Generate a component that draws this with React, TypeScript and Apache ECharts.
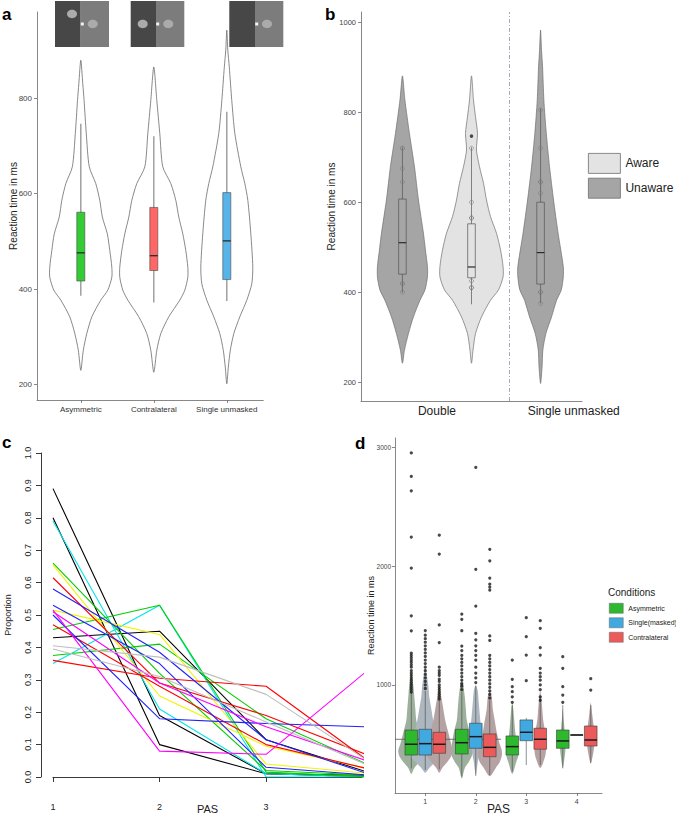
import React, { useEffect, useRef } from "react";
import * as echarts from "echarts";

// ---------------- Panel a ----------------
const A_CATEGORIES = ["Asymmetric", "Contralateral", "Single unmasked"];
const A_POSITIONS = [1, 2, 3];
const A_COLORS = ["#33cc33", "#ff6666", "#56b4e9"];
const A_TICKS = [200, 400, 600, 800];
// [value, half width in category units]
const A_VIOLIN_ASYMMETRIC = [[230, 0], [272, 0.034], [307, 0.082], [342, 0.151], [377, 0.274], [398, 0.37], [425, 0.425], [446, 0.425], [481, 0.397], [516, 0.363], [551, 0.295], [586, 0.26], [621, 0.205], [656, 0.116], [726, 0.075], [795, 0.045], [830, 0.027], [879, 0]];
const A_VIOLIN_CONTRALATERAL = [[226, 0], [272, 0.041], [307, 0.096], [342, 0.205], [377, 0.356], [398, 0.425], [425, 0.466], [446, 0.466], [481, 0.438], [516, 0.397], [551, 0.342], [586, 0.301], [621, 0.233], [656, 0.123], [726, 0.082], [795, 0.041], [865, 0]];
const A_VIOLIN_SINGLE = [[202, 0], [237, 0.021], [272, 0.048], [307, 0.096], [342, 0.178], [377, 0.274], [411, 0.342], [446, 0.356], [516, 0.329], [586, 0.288], [621, 0.247], [656, 0.192], [726, 0.11], [795, 0.068], [865, 0.034], [900, 0.014], [942, 0]];
// [lower whisker, q1, median, q3, upper whisker]
const A_BOX_ASYMMETRIC = [386, 417, 476, 561, 746];
const A_BOX_CONTRALATERAL = [372, 439, 470, 571, 720];
const A_BOX_SINGLE = [375, 420, 501, 602, 771];

// ---------------- Panel b ----------------
const B_FACETS = ["Double", "Single unmasked"];
const B_FACET_LABEL_POS = [1.5, 3.48];
const B_TICKS = [200, 400, 600, 800, 1000];
const B_UNAWARE_POS = [1, 3];
const B_AWARE_POS = [2];
const B_VIOLIN_DOUBLE_UNAWARE = [[242, 0], [271, 0.029], [308, 0.087], [345, 0.159], [382, 0.254], [405, 0.326], [434, 0.362], [457, 0.362], [494, 0.333], [531, 0.304], [605, 0.232], [679, 0.174], [753, 0.101], [827, 0.036], [881, 0]];
const B_VIOLIN_DOUBLE_AWARE = [[242, 0], [271, 0.022], [308, 0.058], [345, 0.145], [382, 0.275], [405, 0.391], [434, 0.457], [457, 0.457], [494, 0.42], [531, 0.362], [568, 0.275], [605, 0.217], [642, 0.174], [679, 0.116], [716, 0.072], [753, 0.087], [790, 0.058], [827, 0.029], [881, 0]];
const B_VIOLIN_SINGLE_UNAWARE = [[197, 0], [234, 0.022], [271, 0.033], [308, 0.077], [345, 0.159], [382, 0.232], [405, 0.3], [434, 0.329], [457, 0.329], [531, 0.254], [605, 0.188], [679, 0.13], [753, 0.083], [827, 0.048], [901, 0.029], [938, 0.014], [983, 0]];
const B_BOX_DOUBLE_UNAWARE = [399, 440, 510, 607, 722];
const B_BOX_DOUBLE_AWARE = [373, 432, 456, 552, 722];
const B_BOX_SINGLE_UNAWARE = [375, 418, 488, 600, 809];
const B_POINTS_DOUBLE_UNAWARE = [720, 720, 675, 645, 420, 418, 400];
const B_POINTS_DOUBLE_AWARE = [720, 600, 565, 565, 425, 410, 410];
const B_POINTS_SINGLE_UNAWARE = [805, 720, 645, 645, 620, 400, 400, 375];
const B_OUTLIERS_DOUBLE_AWARE = [747];
const B_SEPARATOR = 2.55;

// ---------------- Panel c ----------------
const C_PAS = [1, 2, 3, 4];
const C_TICKS = [1, 2, 3];
const C_LINE_COLORS = ["#000000", "#000000", "#000000", "#00e5ee", "#00e5ee", "#00cd00", "#00cd00", "#00cd00", "#f2f200", "#f2f200", "#ff0000", "#ff0000", "#ff0000", "#2020ff", "#2020ff", "#2020ff", "#ff00ff", "#ff00ff", "#bebebe", "#bebebe"];
const C_LINE_VALUES = [
  [0.89, 0.19, 0.01, 0.0],
  [0.8, 0.1, 0.01, 0.005],
  [0.43, 0.45, 0.115, 0.01],
  [0.79, 0.21, 0.01, 0.0],
  [0.35, 0.53, 0.0, 0.0],
  [0.66, 0.32, 0.02, 0.005],
  [0.455, 0.53, 0.015, 0.0],
  [0.375, 0.41, 0.18, 0.032],
  [0.655, 0.25, 0.095, 0.023],
  [0.515, 0.44, 0.04, 0.01],
  [0.615, 0.29, 0.19, 0.062],
  [0.47, 0.28, 0.1, 0.022],
  [0.36, 0.305, 0.28, 0.04],
  [0.58, 0.385, 0.115, 0.005],
  [0.53, 0.35, 0.03, 0.005],
  [0.5, 0.18, 0.165, 0.154],
  [0.515, 0.08, 0.07, 0.342],
  [0.51, 0.29, 0.155, 0.044],
  [0.405, 0.37, 0.255, 0.04],
  [0.395, 0.31, 0.17, 0.03],
];

// ---------------- Panel d ----------------
const D_PAS = [1, 2, 3, 4];
const D_CONDITIONS = ["Asymmetric", "Single(masked)", "Contralateral"];
const D_COLORS = ["#2db82d", "#3fa9e0", "#ec5b5b"];
const D_SWARM_COLORS = ["#9db09d", "#adb7c0", "#b5a3a3"];
const D_OFFSETS = [-0.277, 0, 0.277];
const D_TICKS = [1000, 2000, 3000];
const D_BOX_ASYMMETRIC = [[297, 409, 500, 620, 935], [227, 418, 513, 626, 940], [269, 410, 480, 570, 830], [297, 466, 528, 620, 830]];
const D_BOX_SINGLE = [[283, 409, 505, 626, 950], [233, 466, 564, 677, 991], [325, 530, 601, 705, 721], [578, 578, 578, 578, 578]];
const D_BOX_CONTRALATERAL = [[290, 424, 500, 601, 866], [241, 395, 474, 587, 870], [325, 458, 542, 635, 890], [340, 485, 536, 654, 831]];
const D_OUT_ASYMMETRIC = [
  [2956, 2758, 2637, 2247, 1985, 1583, 1456, 1268, 1250, 1230, 1210, 1190, 1170, 1150, 1120, 1100, 1080, 1060, 1040, 1020, 1000, 980, 960, 940],
  [1598, 1553, 1457, 1328, 1290, 1250, 1220, 1190, 1160, 1130, 1100, 1070, 1040, 1010, 990, 960],
  [1210, 1047, 985, 943, 900, 854],
  [1238, 1140, 985, 915, 854],
];
const D_OUT_SINGLE = [
  [1458, 1420, 1390, 1360, 1330, 1300, 1270, 1240, 1210, 1180, 1150, 1120, 1090, 1060, 1030, 1000, 970],
  [2834, 1975, 1665, 1435, 1380, 1330, 1290, 1250, 1210, 1150, 1100, 1060, 1020],
  [1567, 1407, 1252, 1036],
  [],
];
const D_OUT_CONTRALATERAL = [
  [2263, 2103, 1506, 1357, 1150, 1120, 1100, 1080, 1050, 1030, 1000, 980, 960, 940, 920, 900, 880],
  [2143, 2047, 1901, 1850, 1825, 1800, 1413, 1375, 1250, 1220, 1190, 1160, 1130, 1100, 1070, 1040, 1010, 980, 950, 920, 890],
  [1542, 1477, 1314, 1252, 1140, 1100, 1070, 1040, 1000, 960, 900, 870],
  [1053, 957],
];
// swarm silhouettes: [value, half width in dots]
const D_SWARM_ASYMMETRIC = [
  [[250, 0], [300, 3], [350, 8], [400, 12], [450, 13], [500, 11], [600, 8], [700, 5], [800, 4], [900, 3], [1000, 2], [1100, 0]],
  [[210, 0], [300, 3], [350, 7], [400, 10], [450, 11], [500, 10], [600, 8], [700, 5], [800, 4], [900, 3], [1000, 1.5], [1050, 0]],
  [[250, 0], [350, 4], [400, 6], [450, 6], [500, 5], [600, 3], [700, 2], [800, 1], [850, 0]],
  [[300, 0], [400, 2], [500, 3], [600, 2], [700, 1], [800, 0]],
];
const D_SWARM_SINGLE = [
  [[260, 0], [300, 4], [350, 10], [400, 16], [450, 18], [500, 15], [600, 11], [700, 8], [800, 6], [900, 4], [1000, 3], [1150, 0]],
  [[240, 0], [350, 2], [450, 4], [550, 5], [650, 5], [750, 4], [850, 3], [950, 2], [1000, 0]],
  [],
  [],
];
const D_SWARM_CONTRALATERAL = [
  [[260, 0], [300, 3], [350, 8], [400, 12], [450, 13], [500, 12], [600, 9], [700, 6], [800, 4], [900, 2], [1000, 0]],
  [[230, 0], [300, 6], [350, 10], [400, 12], [450, 12], [500, 10], [600, 7], [700, 5], [800, 3], [900, 2], [950, 0]],
  [[300, 0], [400, 5], [500, 6], [600, 5], [700, 3], [800, 2], [900, 1], [950, 0]],
  [[340, 0], [450, 3], [550, 4], [650, 3], [750, 1.5], [850, 0]],
];
const D_REFERENCE = 542;
const D_REFERENCE_SPAN = [0.4, 2.5];

const FONT = "Liberation Sans, Arial, sans-serif";

function violinSeries(name, xi, centers, profiles, fill, stroke, lw, pixelWidths) {
  return {
    type: "custom",
    name,
    xAxisIndex: xi,
    yAxisIndex: xi,
    z: 2,
    itemStyle: { color: fill },
    data: centers.map((c, i) => [c, profiles[i].length ? profiles[i][0][0] : 0]),
    renderItem: (params, api) => {
      const i = params.dataIndex;
      const c = centers[i];
      const prof = profiles[i];
      if (!prof || !prof.length) return null;
      const pts = [];
      const at = (w, v) => {
        if (pixelWidths) {
          const p = api.coord([c, v]);
          return [p[0] + w, p[1]];
        }
        return api.coord([c + w, v]);
      };
      prof.forEach(([v, w]) => pts.push(at(w, v)));
      for (let k = prof.length - 1; k >= 0; k--) {
        if (prof[k][1] === 0) continue;
        pts.push(at(-prof[k][1], prof[k][0]));
      }
      return {
        type: "polygon",
        shape: { points: pts, smooth: 0.25 },
        style: { fill, stroke, lineWidth: lw },
      };
    },
  };
}

function boxSeries(name, xi, centers, boxes, half, st) {
  return {
    type: "custom",
    name,
    xAxisIndex: xi,
    yAxisIndex: xi,
    z: 3,
    itemStyle: { color: st.fill },
    data: centers.map((c, i) => [c, boxes[i][2]]),
    renderItem: (params, api) => {
      const i = params.dataIndex;
      const c = centers[i];
      const [lo, q1, med, q3, hi] = boxes[i];
      const pLo = api.coord([c, lo]);
      const pHi = api.coord([c, hi]);
      const pQ1 = api.coord([c, q1]);
      const pQ3 = api.coord([c, q3]);
      const L = api.coord([c - half, med]);
      const R = api.coord([c + half, med]);
      const children = [];
      if (st.fullWhisker) {
        children.push({ type: "line", shape: { x1: pLo[0], y1: pLo[1], x2: pHi[0], y2: pHi[1] }, style: { stroke: st.whisker, lineWidth: st.whiskerWidth } });
      } else {
        children.push({ type: "line", shape: { x1: pLo[0], y1: pLo[1], x2: pQ1[0], y2: pQ1[1] }, style: { stroke: st.whisker, lineWidth: st.whiskerWidth } });
        children.push({ type: "line", shape: { x1: pQ3[0], y1: pQ3[1], x2: pHi[0], y2: pHi[1] }, style: { stroke: st.whisker, lineWidth: st.whiskerWidth } });
      }
      children.push({
        type: "rect",
        shape: { x: L[0], y: pQ3[1], width: R[0] - L[0], height: pQ1[1] - pQ3[1] },
        style: { fill: st.fill, stroke: st.stroke, lineWidth: st.strokeWidth, opacity: 1 },
      });
      children.push({ type: "line", shape: { x1: L[0], y1: L[1], x2: R[0], y2: R[1] }, style: { stroke: st.median, lineWidth: st.medianWidth } });
      return { type: "group", children };
    },
  };
}

// axis labels drawn through a rich style so that their colour is always applied
function richLabel(customValues, color, fontSize, margin, fmt) {
  return {
    customValues,
    margin,
    color,
    fontSize,
    fontFamily: FONT,
    formatter: (v) => "{t|" + fmt(v) + "}",
    rich: { t: { color, fontSize, fontFamily: FONT } },
  };
}

function ggAxis(extra) {
  return {
    type: "value",
    splitLine: { show: false },
    nameMoveOverlap: false,
    axisLine: { show: true, lineStyle: { color: "#6a6a6a", width: 0.8 } },
    axisTick: { show: true, length: 3, lineStyle: { color: "#6a6a6a", width: 0.8 } },
    ...extra,
  };
}

function stimulus(x0, x1, noiseEnd, circles, fixX) {
  const children = [
    { type: "rect", shape: { x: x0, y: 1, width: noiseEnd - x0, height: 46 }, style: { fill: "#474747" } },
    { type: "rect", shape: { x: noiseEnd, y: 1, width: x1 - noiseEnd, height: 46 }, style: { fill: "#7c7c7c" } },
  ];
  circles.forEach(([cx, cy]) => children.push({ type: "ellipse", shape: { cx, cy, rx: 5, ry: 4.2 }, style: { fill: "#ababab" } }));
  children.push({ type: "rect", shape: { x: fixX - 1.5, y: 22.5, width: 3, height: 3 }, style: { fill: "#f2f2f2" } });
  return { type: "group", children };
}

export default function App() {
  const ref = useRef(null);
  useEffect(() => {
    const chart = echarts.init(ref.current, null, { renderer: "svg" });

    const series = [];
    // ---- a ----
    const aProfiles = [A_VIOLIN_ASYMMETRIC, A_VIOLIN_CONTRALATERAL, A_VIOLIN_SINGLE];
    series.push(violinSeries("aViolin", 0, A_POSITIONS, aProfiles, "rgba(255,255,255,0)", "#6b6b6b", 0.8, false));
    const aBoxes = [A_BOX_ASYMMETRIC, A_BOX_CONTRALATERAL, A_BOX_SINGLE];
    A_POSITIONS.forEach((p, i) => {
      series.push(boxSeries("aBox" + i, 0, [p], [aBoxes[i]], 0.055, {
        fill: A_COLORS[i], stroke: "#4a4a4a", strokeWidth: 0.6, whisker: "#9a9a9a", whiskerWidth: 1.4,
        median: "#2a2a2a", medianWidth: 1.3, fullWhisker: true,
      }));
    });

    // ---- b ----
    series.push(violinSeries("Unaware", 1, B_UNAWARE_POS, [B_VIOLIN_DOUBLE_UNAWARE, B_VIOLIN_SINGLE_UNAWARE], "#a5a5a5", "#6e6e6e", 0.7, false));
    series.push(violinSeries("Aware", 1, B_AWARE_POS, [B_VIOLIN_DOUBLE_AWARE], "#e3e3e3", "#6e6e6e", 0.7, false));
    series.push(boxSeries("bBox", 1, [1, 2, 3], [B_BOX_DOUBLE_UNAWARE, B_BOX_DOUBLE_AWARE, B_BOX_SINGLE_UNAWARE], 0.055, {
      fill: "rgba(0,0,0,0)", stroke: "#555", strokeWidth: 0.7, whisker: "#555", whiskerWidth: 0.7,
      median: "#2a2a2a", medianWidth: 1.2, fullWhisker: false,
    }));
    const bPts = [];
    [B_POINTS_DOUBLE_UNAWARE, B_POINTS_DOUBLE_AWARE, B_POINTS_SINGLE_UNAWARE].forEach((arr, i) => arr.forEach((v) => bPts.push([i + 1, v])));
    series.push({
      type: "scatter", name: "bPts", xAxisIndex: 1, yAxisIndex: 1, z: 4, symbol: "circle", symbolSize: 4,
      itemStyle: { color: "rgba(0,0,0,0)", borderColor: "#7a7a7a", borderWidth: 0.7 }, data: bPts,
    });
    series.push({
      type: "scatter", name: "bOut", xAxisIndex: 1, yAxisIndex: 1, z: 4, symbolSize: 3.5,
      itemStyle: { color: "#222" }, data: B_OUTLIERS_DOUBLE_AWARE.map((v) => [2, v]),
    });
    series.push({
      type: "line", name: "bSep", xAxisIndex: 1, yAxisIndex: 1, z: 1, symbol: "none",
      lineStyle: { color: "#98a0b8", width: 0.9, type: [4, 2, 1, 2] },
      data: [[B_SEPARATOR, 158], [B_SEPARATOR, 1023]],
    });

    // ---- c ----
    C_LINE_VALUES.forEach((vals, i) => {
      series.push({
        type: "line", name: "c" + i, xAxisIndex: 2, yAxisIndex: 2, symbol: "none", clip: true,
        lineStyle: { color: C_LINE_COLORS[i], width: 1.1 },
        data: vals.map((v, k) => [C_PAS[k], v]),
      });
    });

    // ---- d ----
    const dBoxes = [D_BOX_ASYMMETRIC, D_BOX_SINGLE, D_BOX_CONTRALATERAL];
    const dSwarms = [D_SWARM_ASYMMETRIC, D_SWARM_SINGLE, D_SWARM_CONTRALATERAL];
    const dOut = [D_OUT_ASYMMETRIC, D_OUT_SINGLE, D_OUT_CONTRALATERAL];
    dSwarms.forEach((sw, ci) => {
      series.push(violinSeries("dSwarm" + ci, 3, D_PAS.map((p) => p + D_OFFSETS[ci]), sw, D_SWARM_COLORS[ci], "rgba(0,0,0,0)", 0, true));
    });
    series.push({
      type: "line", name: "dRef", xAxisIndex: 3, yAxisIndex: 3, z: 2, symbol: "none",
      lineStyle: { color: "#555", width: 0.8 },
      data: D_REFERENCE_SPAN.map((x) => [x, D_REFERENCE]),
    });
    D_CONDITIONS.forEach((name, ci) => {
      series.push(boxSeries(name, 3, D_PAS.map((p) => p + D_OFFSETS[ci]), dBoxes[ci], 0.125, {
        fill: D_COLORS[ci], stroke: "#3a3a3a", strokeWidth: 0.6, whisker: "#444", whiskerWidth: 0.6,
        median: "#1a1a1a", medianWidth: 1.5, fullWhisker: false,
      }));
    });
    const outPts = [];
    dOut.forEach((groups, ci) => groups.forEach((vals, pi) => vals.forEach((v) => outPts.push([D_PAS[pi] + D_OFFSETS[ci], v]))));
    series.push({
      type: "scatter", name: "dOut", xAxisIndex: 3, yAxisIndex: 3, z: 5, symbolSize: 3.2,
      itemStyle: { color: "#1a1a1a" }, data: outPts,
    });

    const option = {
      animation: false,
      backgroundColor: "#ffffff",
      textStyle: { fontFamily: FONT },
      title: [
        { text: "a", left: 2, top: 6, padding: 0, textStyle: { fontSize: 17, fontWeight: "bold", color: "#000", fontFamily: FONT } },
        { text: "b", left: 325, top: 6, padding: 0, textStyle: { fontSize: 17, fontWeight: "bold", color: "#000", fontFamily: FONT } },
        { text: "c", left: 2, top: 434, padding: 0, textStyle: { fontSize: 17, fontWeight: "bold", color: "#000", fontFamily: FONT } },
        { text: "d", left: 355, top: 435, padding: 0, textStyle: { fontSize: 17, fontWeight: "bold", color: "#000", fontFamily: FONT } },
        { text: "Conditions", left: 608, top: 587, padding: 0, textStyle: { fontSize: 10, fontWeight: "normal", color: "#222", fontFamily: FONT } },
      ],
      legend: [
        {
          left: 588, top: 153, orient: "vertical", itemWidth: 32, itemHeight: 20, itemGap: 4, selectedMode: false,
          textStyle: { fontSize: 12, color: "#222", fontFamily: FONT }, padding: 0,
          data: [
            { name: "Aware", icon: "rect", itemStyle: { color: "#e3e3e3", borderColor: "#6e6e6e", borderWidth: 0.8 } },
            { name: "Unaware", icon: "rect", itemStyle: { color: "#a5a5a5", borderColor: "#6e6e6e", borderWidth: 0.8 } },
          ],
        },
        {
          left: 609, top: 603, orient: "vertical", itemWidth: 14, itemHeight: 10, itemGap: 4, selectedMode: false,
          textStyle: { fontSize: 7, color: "#222", fontFamily: FONT }, padding: 0,
          data: D_CONDITIONS.map((n, i) => ({ name: n, icon: "rect", itemStyle: { color: D_COLORS[i], borderColor: "#666", borderWidth: 0.5 } })),
        },
      ],
      grid: [
        { left: 37, top: 12, width: 226.3, height: 388, containLabel: false, outerBoundsMode: "none" },
        { left: 361, top: 12, width: 221, height: 389, containLabel: false, outerBoundsMode: "none" },
        { left: 53, top: 453, width: 309, height: 324, containLabel: false, outerBoundsMode: "none" },
        { left: 395, top: 438, width: 207, height: 355, containLabel: false, outerBoundsMode: "none" },
      ],
      xAxis: [
        ggAxis({
          gridIndex: 0, min: 0.4, max: 3.5,
          axisTick: { show: true, length: 3, customValues: A_POSITIONS, lineStyle: { color: "#6a6a6a", width: 0.8 } },
          axisLabel: richLabel(A_POSITIONS, "#333333", 8, 5, (v) => A_CATEGORIES[Math.round(v) - 1] || ""),
        }),
        ggAxis({
          gridIndex: 1, min: 0.4, max: 3.6,
          axisTick: { show: false },
          axisLabel: richLabel(B_FACET_LABEL_POS, "#222222", 12, 4, (v) => (v < B_SEPARATOR ? B_FACETS[0] : B_FACETS[1])),
        }),
        {
          type: "value", gridIndex: 2, min: 1, max: 3.9, offset: 13, nameMoveOverlap: false,
          splitLine: { show: false },
          axisLine: { show: true, lineStyle: { color: "#222", width: 0.9 } },
          axisTick: { show: true, length: 5, customValues: C_TICKS, lineStyle: { color: "#222", width: 0.9 } },
          axisLabel: richLabel(C_TICKS, "#222222", 9, 12, (v) => String(v)),
          name: "PAS", nameLocation: "middle", nameGap: 13,
          nameTextStyle: { fontSize: 11, color: "#222", fontFamily: FONT },
        },
        ggAxis({
          gridIndex: 3, min: 0.4, max: 4.5,
          axisTick: { show: true, length: 3, customValues: D_PAS, lineStyle: { color: "#6a6a6a", width: 0.8 } },
          axisLabel: richLabel(D_PAS, "#444444", 7, 5, (v) => String(v)),
          name: "PAS", nameLocation: "middle", nameGap: 10,
          nameTextStyle: { fontSize: 12, color: "#222", fontFamily: FONT },
        }),
      ],
      yAxis: [
        ggAxis({
          gridIndex: 0, min: 168, max: 980,
          axisTick: { show: true, length: 3, customValues: A_TICKS, lineStyle: { color: "#6a6a6a", width: 0.8 } },
          axisLabel: richLabel(A_TICKS, "#444444", 8, 5, (v) => String(v)),
          name: "Reaction time in ms", nameLocation: "middle", nameGap: 19,
          nameTextStyle: { fontSize: 10, color: "#222", fontFamily: FONT },
        }),
        ggAxis({
          gridIndex: 1, min: 158, max: 1023,
          axisTick: { show: true, length: 3, customValues: B_TICKS, lineStyle: { color: "#6a6a6a", width: 0.8 } },
          axisLabel: richLabel(B_TICKS, "#444444", 7.5, 5, (v) => String(v)),
          name: "Reaction time in ms", nameLocation: "middle", nameGap: 25,
          nameTextStyle: { fontSize: 10, color: "#222", fontFamily: FONT },
        }),
        {
          type: "value", gridIndex: 2, min: 0, max: 1, interval: 0.1, offset: 12, nameMoveOverlap: false,
          splitLine: { show: false },
          axisLine: { show: true, lineStyle: { color: "#222", width: 0.9 } },
          axisTick: { show: true, length: 5, lineStyle: { color: "#222", width: 0.9 } },
          axisLabel: { color: "#222", fontSize: 9, fontFamily: FONT, margin: 9, rotate: 90, formatter: (v) => v.toFixed(1) },
          name: "Proportion", nameLocation: "middle", nameGap: 29,
          nameTextStyle: { fontSize: 9, color: "#222", fontFamily: FONT },
        },
        ggAxis({
          gridIndex: 3, min: 89, max: 3082,
          axisTick: { show: true, length: 3, customValues: D_TICKS, lineStyle: { color: "#6a6a6a", width: 0.8 } },
          axisLabel: richLabel(D_TICKS, "#444444", 6.5, 4, (v) => String(v)),
          name: "Reaction time in ms", nameLocation: "middle", nameGap: 20,
          nameTextStyle: { fontSize: 9, color: "#222", fontFamily: FONT },
        }),
      ],
      graphic: [
        stimulus(55, 109, 80.7, [[72, 14], [92.7, 24]], 82.3),
        stimulus(130.7, 184.3, 156, [[142.7, 24], [168.3, 24]], 157.7),
        stimulus(229.3, 283.3, 255, [[267, 24]], 256.7),
      ],
      series,
    };
    chart.setOption(option);
    return () => chart.dispose();
  }, []);
  return <div ref={ref} style={{ position: "absolute", left: 0, top: 0, width: 676, height: 815 }} />;
}
